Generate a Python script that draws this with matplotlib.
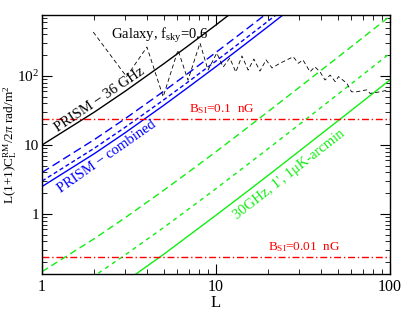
import matplotlib
matplotlib.use("Agg")
import matplotlib.pyplot as plt
from matplotlib.ticker import FixedLocator, FuncFormatter, LogLocator, NullFormatter

plt.rcParams['font.family'] = ['Liberation Serif', 'DejaVu Serif']
plt.rcParams['mathtext.fontset'] = 'custom'
plt.rcParams['mathtext.rm'] = 'Liberation Serif'
plt.rcParams['mathtext.it'] = 'Liberation Serif:italic'
plt.rcParams['lines.scale_dashes'] = False

# ---- data ----
L_black = [1, 2, 3, 5, 7, 10, 12.5]
v_black = [10, 30, 60, 150, 280, 550, 850]

L_blue = [1, 2, 3, 5, 7, 10, 15, 20, 26]
v_blue_solid = [2.5, 7.5, 15, 37.5, 70, 137, 300, 525, 880]
v_blue_short = [3.0, 9.0, 18, 45, 84, 165, 360, 630, 1050]
v_blue_long = [4.0, 12, 24, 60, 112, 220, 480, 840, 1400]

L_green = [1, 2, 3, 5, 7, 10, 15, 20, 30, 50, 70, 100]
v_green_long = [0.146, 0.44, 0.88, 2.2, 4.1, 8.0, 17.5, 30.7, 68, 186, 362, 737]
v_green_short = [0.042, 0.127, 0.254, 0.636, 1.19, 2.33, 5.09, 8.9, 19.7, 54, 105, 214]
v_green_solid = [0.0174, 0.052, 0.104, 0.26, 0.49, 0.96, 2.09, 3.65, 8.1, 22.2, 43.2, 87.9]

B_levels = [24, 0.24]

L_gal = [1.97, 3.06, 4.01, 4.97, 6.05, 6.9, 8.09, 9.0, 10.1, 11.0, 12.0, 13.0,
         14.1, 15.3, 16.5, 17.9, 19.4, 21.0, 23.3, 27.8, 29.7, 31.6, 34.7, 37.0,
         39.6, 42.3, 45.3, 48.4, 50.6, 56.6, 60.1, 64.2, 73.5, 76.8, 87.6, 95.7]
v_gal = [434, 98, 263, 50, 238, 87, 300, 122, 215, 135, 182, 114,
         195, 122, 176, 118, 171, 131, 153, 190, 153, 171, 115, 136,
         115, 87.5, 103, 83, 98, 78, 59, 59, 63, 56, 59, 62]

x_ticks = [1, 10, 100]
x_ticklabels = ['1', '10', '100']
y_ticks = [1, 10, 100]
y_ticklabels = ['1', '10', r'$10^2$']

# ---- figure ----
fig = plt.figure(figsize=(4.15, 3.11), dpi=100)
ax = fig.add_axes([42/415, 1-274/311, 348/415, 259/311])
ax.set_xscale('log')
ax.set_yscale('log')
ax.set_xlim(1, 100)
ax.set_ylim(0.135, 766)

blue = '#0000ff'
green = '#11ee11'
red = '#ff0000'

ax.plot(L_black, v_black, color='black', lw=1.0)
ax.plot(L_blue, v_blue_solid, color=blue, lw=1.0)
ax.plot(L_blue, v_blue_short, color=blue, lw=1.0, dashes=(3, 2))
ax.plot(L_blue, v_blue_long, color=blue, lw=1.0, dashes=(6, 3))
ax.plot(L_green, v_green_long, color=green, lw=1.0, dashes=(5, 3))
ax.plot(L_green, v_green_short, color=green, lw=1.0, dashes=(3, 3))
ax.plot(L_green, v_green_solid, color=green, lw=1.0)
for b in B_levels:
    ax.axhline(b, color=red, lw=1.0, dashes=(5, 2, 1, 2))
ax.plot(L_gal, v_gal, color='black', lw=0.6, dashes=(3, 2))

def P(px, py):
    return ((px - 42) / 348, (274 - py) / 259)

ax.text(*P(160, 36), r'Galaxy, f$_{\rm sky}$=0.6', transform=ax.transAxes,
        ha='center', va='center', fontsize=10.5)
ax.text(*P(100, 100), 'PRISM − 36 GHz', transform=ax.transAxes, ha='center',
        va='center', fontsize=10.5, rotation=34, rotation_mode='anchor')
ax.text(*P(107, 157), 'PRISM − combined', transform=ax.transAxes, ha='center',
        va='center', fontsize=10.5, rotation=35, color=blue, rotation_mode='anchor')
ax.text(*P(289, 175), "30GHz, 1', 1μK-arcmin", transform=ax.transAxes, ha='center',
        va='center', fontsize=10.5, rotation=38, color=green, rotation_mode='anchor')
ax.text(*P(222, 109), r'B$_{\rm SI}$=0.1  nG', transform=ax.transAxes, ha='center',
        va='center', fontsize=9.5, color=red)
ax.text(*P(304, 247), r'B$_{\rm SI}$=0.01  nG', transform=ax.transAxes, ha='center',
        va='center', fontsize=9.5, color=red)

ax.xaxis.set_major_locator(FixedLocator(x_ticks))
ax.xaxis.set_major_formatter(FuncFormatter(lambda v, p: x_ticklabels[x_ticks.index(round(v))] if round(v) in x_ticks else ''))
ax.yaxis.set_major_locator(FixedLocator(y_ticks))
ax.yaxis.set_major_formatter(FuncFormatter(lambda v, p: y_ticklabels[y_ticks.index(round(v))] if round(v) in y_ticks else ''))
ax.xaxis.set_minor_locator(LogLocator(base=10, subs=range(2, 10)))
ax.yaxis.set_minor_locator(LogLocator(base=10, subs=range(2, 10)))
ax.xaxis.set_minor_formatter(NullFormatter())
ax.yaxis.set_minor_formatter(NullFormatter())
ax.tick_params(which='both', direction='in', top=True, right=True, labelsize=11.5)
ax.tick_params(axis='y', which='major', pad=2, labelsize=11)
ax.tick_params(which='major', length=7, width=0.8)
ax.tick_params(which='minor', length=3.5, width=0.6)
for s in ax.spines.values():
    s.set_linewidth(1.0)

ax.set_xlabel('L', fontsize=12, labelpad=0)
ax.set_ylabel(r'L(1+1)C$_{\rm L}^{\rm RM}$/2$\pi$ rad/m$^2$', fontsize=9.5)
ax.yaxis.set_label_coords(-0.066, 0.5)

fig.savefig('out.png', dpi=100)
